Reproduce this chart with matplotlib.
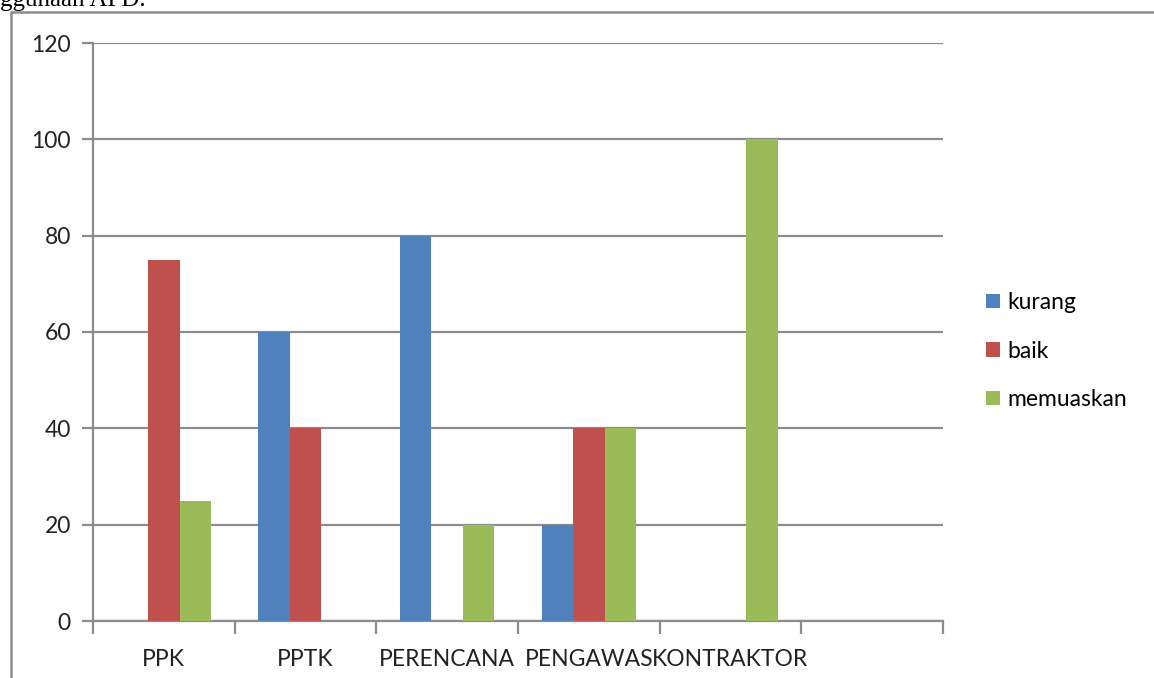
import numpy as np
import matplotlib.pyplot as plt
from matplotlib.patches import Patch, Rectangle

categories = ["PPK", "PPTK", "PERENCANA", "PENGAWAS", "KONTRAKTOR", ""]
series = ["kurang", "baik", "memuaskan"]
kurang = [0, 60, 80, 20, 0, 0]
baik = [75, 40, 0, 40, 0, 0]
memuaskan = [25, 0, 20, 40, 100, 0]
colors = ["#4F81BD", "#C0504D", "#9BBB59"]
yticks = [0, 20, 40, 60, 80, 100, 120]

W, H = 1154, 678
fig = plt.figure(figsize=(W / 100, H / 100), dpi=100)
ax = fig.add_axes([93 / W, 1 - 621 / H, (943 - 93) / W, (621 - 43) / H])

grey = "#8C8C8C"
font = "Lato"
fs = 16.5

x = np.arange(len(categories))
w = 0.222
for i, (vals, c) in enumerate(zip([kurang, baik, memuaskan], colors)):
    ax.bar(x + (i - 1) * w, vals, width=w, color=c, zorder=3)

ax.set_xlim(-0.5, len(categories) - 0.5)
ax.set_ylim(0, 120)
ax.set_yticks(yticks)
ax.set_yticklabels([str(v) for v in yticks], fontfamily=font, fontsize=fs, color="#222222")
ax.yaxis.grid(True, color=grey, lw=1.6, zorder=0)

ax.set_xticks(np.arange(len(categories) + 1) - 0.5)
ax.set_xticklabels([])
ax.set_xticks(x, minor=True)
ax.set_xticklabels(categories, minor=True, fontfamily=font, fontsize=fs, color="#222222")
ax.tick_params(axis="x", which="minor", length=0, pad=20)
ax.tick_params(axis="x", which="major", length=9, width=1.6, color=grey, direction="out")
ax.tick_params(axis="y", length=8, width=1.6, color=grey, direction="out", pad=8)

for s in ["top", "right"]:
    ax.spines[s].set_visible(False)
for s in ["left", "bottom"]:
    ax.spines[s].set_color(grey)
    ax.spines[s].set_linewidth(1.6)

handles = [Patch(facecolor=c, edgecolor="none") for c in colors]
fig.legend(handles, series, loc="center left", bbox_to_anchor=(986 / W, 1 - 351 / H),
           frameon=False, handlelength=0.6, handleheight=0.6, handletextpad=0.35,
           labelspacing=1.2, borderpad=0, borderaxespad=0,
           prop={"family": font, "size": fs})

# outer chart frame (cropped at right and bottom)
fig.patches.append(Rectangle((11 / W, -0.1), 1.2, 1.1 - 12 / H, transform=fig.transFigure,
                             fill=False, edgecolor=grey, lw=1.8))

# tail of the document sentence above the chart, cut by the top edge
fig.text(0, 1 - 6 / H, "ggunaan APD.", fontfamily="Liberation Serif", fontsize=18,
         va="baseline", ha="left", color="black")

fig.savefig("out.png", dpi=100)
